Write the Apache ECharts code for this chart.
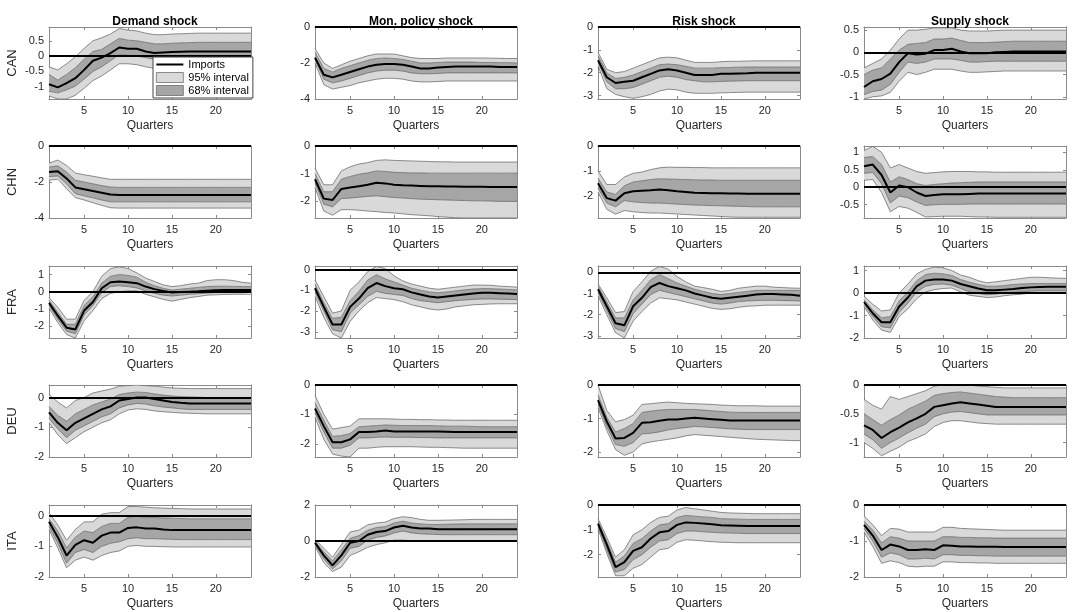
<!DOCTYPE html>
<html><head><meta charset="utf-8">
<script src="https://cdn.jsdelivr.net/npm/echarts@6/dist/echarts.min.js"></script>
<style>html,body{margin:0;padding:0;background:#fff}#c{width:1075px;height:612px}</style>
</head><body><div id="c"></div>
<script>
// ---------- DATA ----------
const quarters = [1,2,3,4,5,6,7,8,9,10,11,12,13,14,15,16,17,18,19,20,21,22,23,24];
const shocks = ['Demand shock', 'Mon. policy shock', 'Risk shock', 'Supply shock'];
const countries = ['CAN', 'CHN', 'FRA', 'DEU', 'ITA'];
const legendNames = ['Imports', '95% interval', '68% interval'];

// Each panel: [lower 95%, lower 68%, median (Imports), upper 68%, upper 95%]
const CAN_Demand = [
 [-1.3,-1.4,-1.4,-1.28,-1.05,-0.8,-0.65,-0.45,-0.25,-0.25,-0.28,-0.35,-0.4,-0.42,-0.43,-0.44,-0.45,-0.45,-0.45,-0.45,-0.45,-0.45,-0.45,-0.45],
 [-1.15,-1.2,-1.1,-0.98,-0.75,-0.5,-0.35,-0.15,0.05,0.02,0.0,-0.05,-0.1,-0.12,-0.12,-0.13,-0.13,-0.14,-0.14,-0.15,-0.15,-0.15,-0.15,-0.15],
 [-0.92,-1.02,-0.88,-0.72,-0.45,-0.15,-0.05,0.1,0.28,0.24,0.24,0.15,0.1,0.12,0.13,0.14,0.15,0.15,0.15,0.15,0.15,0.15,0.15,0.15],
 [-0.6,-0.78,-0.6,-0.38,-0.1,0.15,0.22,0.4,0.58,0.52,0.5,0.45,0.4,0.4,0.42,0.43,0.44,0.45,0.45,0.45,0.45,0.45,0.45,0.45],
 [-0.35,-0.45,-0.25,-0.02,0.25,0.5,0.6,0.72,0.9,0.85,0.82,0.75,0.7,0.7,0.72,0.73,0.74,0.75,0.75,0.75,0.75,0.75,0.75,0.75]];
const CAN_Monetary = [
 [-2.0,-3.2,-3.45,-3.35,-3.25,-3.1,-3.0,-2.9,-2.85,-2.85,-2.9,-3.0,-3.05,-3.05,-3.03,-3.0,-3.0,-3.0,-3.0,-3.0,-3.0,-3.0,-3.0,-3.0],
 [-1.8,-2.9,-3.1,-3.0,-2.85,-2.7,-2.55,-2.45,-2.4,-2.4,-2.45,-2.55,-2.6,-2.6,-2.58,-2.55,-2.55,-2.55,-2.55,-2.55,-2.55,-2.55,-2.55,-2.55],
 [-1.7,-2.65,-2.8,-2.65,-2.5,-2.35,-2.2,-2.1,-2.05,-2.05,-2.1,-2.2,-2.3,-2.3,-2.25,-2.22,-2.2,-2.2,-2.2,-2.2,-2.2,-2.22,-2.22,-2.22],
 [-1.4,-2.3,-2.5,-2.3,-2.15,-2.0,-1.85,-1.75,-1.72,-1.75,-1.8,-1.9,-2.0,-2.0,-1.97,-1.95,-1.95,-1.95,-1.95,-1.97,-1.97,-1.98,-1.98,-2.0],
 [-1.2,-2.0,-2.3,-2.1,-1.9,-1.75,-1.6,-1.5,-1.5,-1.5,-1.6,-1.7,-1.75,-1.75,-1.75,-1.72,-1.72,-1.72,-1.72,-1.72,-1.73,-1.74,-1.75,-1.75]];
const CAN_Risk = [
 [-1.7,-2.7,-2.95,-3.05,-3.12,-3.05,-2.95,-2.8,-2.72,-2.75,-2.85,-2.9,-2.9,-2.9,-2.88,-2.87,-2.86,-2.85,-2.85,-2.85,-2.85,-2.85,-2.85,-2.85],
 [-1.55,-2.4,-2.7,-2.7,-2.65,-2.5,-2.35,-2.2,-2.15,-2.2,-2.3,-2.35,-2.4,-2.4,-2.38,-2.37,-2.36,-2.35,-2.35,-2.35,-2.35,-2.35,-2.35,-2.35],
 [-1.45,-2.2,-2.45,-2.4,-2.35,-2.2,-2.05,-1.9,-1.85,-1.9,-2.0,-2.1,-2.1,-2.1,-2.05,-2.05,-2.03,-2.02,-2.0,-2.0,-2.0,-2.0,-2.0,-2.0],
 [-1.25,-2.0,-2.25,-2.2,-2.1,-1.95,-1.8,-1.65,-1.62,-1.65,-1.72,-1.8,-1.8,-1.8,-1.78,-1.77,-1.76,-1.75,-1.75,-1.75,-1.75,-1.75,-1.75,-1.75],
 [-1.1,-1.85,-2.0,-1.95,-1.8,-1.65,-1.5,-1.35,-1.32,-1.35,-1.45,-1.55,-1.55,-1.55,-1.52,-1.5,-1.5,-1.49,-1.48,-1.48,-1.48,-1.48,-1.48,-1.48]];
const CAN_Supply = [
 [-1.05,-1.0,-0.98,-0.9,-0.65,-0.45,-0.5,-0.45,-0.38,-0.38,-0.38,-0.42,-0.45,-0.45,-0.44,-0.43,-0.42,-0.42,-0.42,-0.42,-0.42,-0.42,-0.42,-0.42],
 [-0.95,-0.88,-0.85,-0.72,-0.45,-0.22,-0.25,-0.22,-0.15,-0.15,-0.15,-0.18,-0.22,-0.22,-0.21,-0.2,-0.2,-0.2,-0.2,-0.2,-0.2,-0.2,-0.2,-0.2],
 [-0.78,-0.65,-0.6,-0.48,-0.22,-0.02,-0.05,-0.03,0.05,0.05,0.08,0.02,-0.02,-0.02,-0.02,0.0,0.01,0.02,0.02,0.02,0.02,0.02,0.02,0.02],
 [-0.5,-0.4,-0.35,-0.15,0.05,0.18,0.2,0.22,0.3,0.3,0.32,0.27,0.22,0.22,0.22,0.23,0.24,0.25,0.25,0.25,0.25,0.25,0.25,0.25],
 [-0.35,-0.25,-0.15,0.05,0.3,0.5,0.5,0.52,0.55,0.55,0.55,0.5,0.48,0.48,0.48,0.49,0.5,0.5,0.5,0.5,0.5,0.5,0.5,0.5]];

const CHN_Demand = [
 [-1.9,-1.84,-2.37,-2.87,-3.0,-3.15,-3.3,-3.43,-3.45,-3.45,-3.45,-3.45,-3.45,-3.45,-3.45,-3.45,-3.45,-3.45,-3.45,-3.45,-3.45,-3.45,-3.45,-3.45],
 [-1.7,-1.67,-2.1,-2.65,-2.77,-2.88,-3.0,-3.1,-3.1,-3.1,-3.1,-3.1,-3.1,-3.1,-3.1,-3.1,-3.1,-3.1,-3.1,-3.1,-3.1,-3.1,-3.1,-3.1],
 [-1.45,-1.4,-1.8,-2.3,-2.4,-2.5,-2.6,-2.7,-2.72,-2.72,-2.72,-2.72,-2.72,-2.72,-2.72,-2.72,-2.72,-2.72,-2.72,-2.72,-2.72,-2.72,-2.72,-2.72],
 [-1.17,-1.1,-1.45,-1.9,-2.0,-2.1,-2.2,-2.28,-2.3,-2.3,-2.3,-2.3,-2.3,-2.3,-2.3,-2.3,-2.3,-2.3,-2.3,-2.3,-2.3,-2.3,-2.3,-2.3],
 [-0.95,-0.78,-1.08,-1.5,-1.6,-1.68,-1.77,-1.85,-1.85,-1.85,-1.85,-1.85,-1.85,-1.85,-1.85,-1.85,-1.85,-1.85,-1.85,-1.85,-1.85,-1.85,-1.85,-1.85]];
const CHN_Monetary = [
 [-1.5,-2.35,-2.5,-2.3,-2.3,-2.32,-2.35,-2.37,-2.4,-2.42,-2.45,-2.48,-2.5,-2.52,-2.55,-2.57,-2.59,-2.6,-2.6,-2.6,-2.6,-2.6,-2.6,-2.6],
 [-1.35,-2.1,-2.2,-1.9,-1.88,-1.85,-1.82,-1.8,-1.83,-1.86,-1.88,-1.9,-1.92,-1.93,-1.94,-1.95,-1.96,-1.97,-1.98,-1.98,-1.99,-2.0,-2.0,-2.0],
 [-1.2,-1.9,-1.95,-1.55,-1.5,-1.45,-1.4,-1.33,-1.35,-1.4,-1.42,-1.43,-1.44,-1.45,-1.45,-1.46,-1.46,-1.47,-1.47,-1.47,-1.48,-1.48,-1.48,-1.48],
 [-1.0,-1.65,-1.65,-1.2,-1.1,-1.02,-0.97,-0.9,-0.92,-0.95,-0.96,-0.97,-0.97,-0.98,-0.98,-0.98,-0.98,-0.98,-0.98,-0.98,-0.98,-0.98,-0.98,-0.98],
 [-0.8,-1.4,-1.4,-0.9,-0.75,-0.65,-0.6,-0.52,-0.5,-0.52,-0.53,-0.54,-0.55,-0.56,-0.57,-0.57,-0.58,-0.58,-0.58,-0.58,-0.58,-0.58,-0.58,-0.58]];
const CHN_Risk = [
 [-1.85,-2.55,-2.75,-2.6,-2.65,-2.68,-2.7,-2.7,-2.72,-2.74,-2.76,-2.78,-2.8,-2.82,-2.84,-2.86,-2.87,-2.87,-2.87,-2.87,-2.87,-2.87,-2.87,-2.87],
 [-1.7,-2.3,-2.45,-2.2,-2.25,-2.28,-2.3,-2.3,-2.32,-2.34,-2.36,-2.38,-2.39,-2.4,-2.41,-2.42,-2.43,-2.44,-2.45,-2.45,-2.45,-2.45,-2.45,-2.45],
 [-1.5,-2.1,-2.2,-1.9,-1.82,-1.8,-1.78,-1.75,-1.78,-1.82,-1.85,-1.88,-1.89,-1.9,-1.9,-1.91,-1.91,-1.92,-1.92,-1.92,-1.92,-1.92,-1.92,-1.92],
 [-1.3,-1.85,-1.95,-1.6,-1.45,-1.4,-1.35,-1.32,-1.33,-1.34,-1.35,-1.36,-1.37,-1.37,-1.38,-1.38,-1.38,-1.38,-1.38,-1.38,-1.38,-1.38,-1.38,-1.38],
 [-1.0,-1.55,-1.55,-1.25,-1.1,-1.05,-0.95,-0.88,-0.85,-0.86,-0.86,-0.87,-0.87,-0.88,-0.88,-0.88,-0.88,-0.88,-0.88,-0.88,-0.88,-0.88,-0.88,-0.88]];
const CHN_Supply = [
 [0.2,0.22,-0.15,-0.7,-0.55,-0.6,-0.72,-0.85,-0.84,-0.83,-0.83,-0.83,-0.84,-0.85,-0.85,-0.86,-0.86,-0.86,-0.86,-0.86,-0.86,-0.86,-0.86,-0.86],
 [0.4,0.42,0.1,-0.45,-0.25,-0.3,-0.42,-0.52,-0.5,-0.49,-0.49,-0.49,-0.48,-0.48,-0.48,-0.48,-0.48,-0.48,-0.48,-0.48,-0.48,-0.48,-0.48,-0.48],
 [0.6,0.65,0.35,-0.15,0.05,0.0,-0.15,-0.25,-0.22,-0.2,-0.2,-0.2,-0.19,-0.18,-0.18,-0.18,-0.18,-0.18,-0.18,-0.18,-0.18,-0.18,-0.18,-0.18],
 [0.85,0.88,0.65,0.15,0.3,0.22,0.1,0.05,0.08,0.1,0.12,0.13,0.14,0.15,0.15,0.15,0.15,0.15,0.15,0.15,0.15,0.15,0.15,0.15],
 [1.05,1.17,1.0,0.55,0.65,0.55,0.45,0.4,0.42,0.44,0.45,0.45,0.45,0.44,0.44,0.43,0.43,0.43,0.43,0.43,0.43,0.43,0.43,0.43]];

const FRA_Demand = [
 [-0.95,-1.8,-2.5,-2.7,-1.7,-1.1,-0.4,-0.1,0.0,0.05,0.05,-0.15,-0.3,-0.45,-0.55,-0.45,-0.35,-0.28,-0.2,-0.18,-0.16,-0.15,-0.15,-0.15],
 [-0.8,-1.6,-2.3,-2.45,-1.35,-0.8,-0.05,0.3,0.35,0.3,0.22,0.05,-0.1,-0.2,-0.25,-0.2,-0.15,-0.12,-0.08,-0.05,-0.05,-0.05,-0.05,-0.05],
 [-0.65,-1.4,-2.1,-2.2,-1.1,-0.6,0.2,0.55,0.6,0.55,0.5,0.3,0.15,0.05,-0.05,-0.02,0.0,0.02,0.05,0.08,0.1,0.1,0.1,0.1],
 [-0.5,-1.2,-1.9,-1.9,-0.8,-0.3,0.5,0.9,1.0,0.95,0.85,0.55,0.35,0.2,0.1,0.15,0.2,0.25,0.3,0.32,0.32,0.31,0.3,0.3],
 [-0.35,-0.9,-1.6,-1.6,-0.5,0.0,0.9,1.35,1.45,1.35,1.1,0.8,0.6,0.4,0.3,0.35,0.45,0.5,0.65,0.7,0.7,0.65,0.55,0.5]];
const FRA_Monetary = [
 [-1.3,-2.3,-3.1,-3.3,-2.5,-2.0,-1.6,-1.35,-1.4,-1.45,-1.55,-1.7,-1.8,-1.9,-1.95,-1.9,-1.8,-1.75,-1.7,-1.68,-1.66,-1.65,-1.65,-1.65],
 [-1.1,-2.0,-2.9,-3.0,-2.1,-1.7,-1.3,-1.05,-1.15,-1.2,-1.25,-1.4,-1.5,-1.55,-1.6,-1.55,-1.5,-1.47,-1.44,-1.42,-1.42,-1.43,-1.44,-1.45],
 [-0.9,-1.8,-2.65,-2.65,-1.8,-1.4,-0.9,-0.65,-0.8,-0.9,-0.95,-1.1,-1.2,-1.3,-1.35,-1.3,-1.25,-1.2,-1.15,-1.12,-1.12,-1.14,-1.16,-1.18],
 [-0.7,-1.6,-2.35,-2.3,-1.5,-1.05,-0.5,-0.25,-0.45,-0.6,-0.75,-0.9,-1.0,-1.08,-1.12,-1.08,-1.03,-0.98,-0.94,-0.92,-0.92,-0.94,-0.96,-0.98],
 [-0.5,-1.3,-2.1,-2.0,-1.0,-0.6,-0.1,0.15,0.05,-0.3,-0.55,-0.7,-0.8,-0.9,-0.95,-0.9,-0.85,-0.8,-0.75,-0.75,-0.76,-0.8,-0.82,-0.85]];
const FRA_Risk = [
 [-1.1,-2.0,-2.85,-3.1,-2.3,-1.85,-1.45,-1.2,-1.25,-1.3,-1.4,-1.5,-1.6,-1.7,-1.75,-1.72,-1.65,-1.6,-1.58,-1.55,-1.55,-1.55,-1.55,-1.55],
 [-0.95,-1.8,-2.65,-2.8,-1.95,-1.5,-1.05,-0.85,-0.95,-1.05,-1.15,-1.25,-1.35,-1.45,-1.5,-1.45,-1.38,-1.35,-1.33,-1.32,-1.32,-1.33,-1.34,-1.35],
 [-0.8,-1.6,-2.4,-2.5,-1.6,-1.2,-0.7,-0.5,-0.65,-0.75,-0.85,-1.0,-1.1,-1.2,-1.25,-1.2,-1.15,-1.1,-1.05,-1.02,-1.02,-1.04,-1.06,-1.1],
 [-0.65,-1.4,-2.15,-2.15,-1.3,-0.85,-0.35,-0.1,-0.3,-0.5,-0.65,-0.8,-0.9,-1.0,-1.05,-1.0,-0.95,-0.9,-0.85,-0.85,-0.85,-0.85,-0.85,-0.85],
 [-0.55,-1.2,-1.9,-1.85,-0.9,-0.45,0.05,0.28,0.15,-0.2,-0.45,-0.65,-0.72,-0.8,-0.9,-0.85,-0.75,-0.7,-0.65,-0.65,-0.7,-0.72,-0.74,-0.75]];
const FRA_Supply = [
 [-0.6,-1.2,-1.65,-1.75,-1.05,-0.7,-0.25,0.05,0.15,0.2,0.22,0.05,-0.1,-0.15,-0.2,-0.18,-0.12,-0.08,-0.05,0.0,0.0,0.0,0.0,0.0],
 [-0.5,-1.05,-1.5,-1.55,-0.85,-0.45,0.05,0.3,0.38,0.4,0.35,0.2,0.05,-0.02,-0.08,-0.05,0.0,0.02,0.05,0.08,0.1,0.1,0.1,0.1],
 [-0.4,-0.9,-1.3,-1.3,-0.6,-0.2,0.3,0.55,0.6,0.6,0.55,0.4,0.3,0.2,0.12,0.12,0.15,0.18,0.22,0.25,0.27,0.28,0.28,0.28],
 [-0.3,-0.75,-1.1,-1.05,-0.35,0.05,0.55,0.82,0.88,0.85,0.78,0.6,0.48,0.38,0.3,0.3,0.33,0.38,0.4,0.42,0.42,0.42,0.42,0.42],
 [-0.15,-0.5,-0.8,-0.75,0.0,0.4,0.85,1.05,1.15,1.12,1.0,0.8,0.7,0.55,0.45,0.5,0.55,0.6,0.65,0.7,0.7,0.68,0.66,0.65]];

const DEU_Demand = [
 [-0.85,-1.25,-1.55,-1.35,-1.15,-1.0,-0.85,-0.75,-0.55,-0.42,-0.38,-0.4,-0.45,-0.48,-0.5,-0.52,-0.53,-0.54,-0.55,-0.55,-0.55,-0.55,-0.55,-0.55],
 [-0.7,-1.05,-1.35,-1.1,-0.95,-0.8,-0.65,-0.55,-0.35,-0.25,-0.2,-0.22,-0.28,-0.32,-0.35,-0.38,-0.4,-0.4,-0.4,-0.4,-0.4,-0.4,-0.4,-0.4],
 [-0.5,-0.85,-1.1,-0.85,-0.7,-0.55,-0.4,-0.3,-0.1,-0.05,0.0,0.0,-0.05,-0.1,-0.15,-0.18,-0.2,-0.2,-0.2,-0.2,-0.2,-0.2,-0.2,-0.2],
 [-0.3,-0.6,-0.8,-0.55,-0.4,-0.25,-0.15,-0.05,0.1,0.15,0.18,0.17,0.12,0.08,0.05,0.03,0.02,0.01,0.0,0.0,0.0,0.0,0.0,0.0],
 [0.1,-0.15,-0.35,-0.1,0.0,0.15,0.22,0.28,0.38,0.4,0.42,0.4,0.38,0.35,0.32,0.31,0.3,0.3,0.3,0.3,0.3,0.3,0.3,0.3]];
const DEU_Monetary = [
 [-1.1,-1.85,-2.35,-2.42,-2.45,-2.15,-2.15,-2.12,-2.1,-2.1,-2.1,-2.1,-2.11,-2.12,-2.12,-2.13,-2.14,-2.15,-2.15,-2.15,-2.15,-2.15,-2.15,-2.15],
 [-0.95,-1.6,-2.15,-2.15,-2.05,-1.8,-1.8,-1.78,-1.77,-1.78,-1.78,-1.78,-1.79,-1.79,-1.8,-1.8,-1.8,-1.8,-1.8,-1.8,-1.8,-1.8,-1.8,-1.8],
 [-0.8,-1.4,-1.95,-1.95,-1.85,-1.6,-1.6,-1.58,-1.55,-1.58,-1.58,-1.58,-1.58,-1.58,-1.58,-1.59,-1.6,-1.6,-1.6,-1.6,-1.6,-1.6,-1.6,-1.6],
 [-0.6,-1.2,-1.75,-1.72,-1.65,-1.42,-1.4,-1.38,-1.36,-1.37,-1.38,-1.38,-1.38,-1.38,-1.39,-1.4,-1.4,-1.4,-1.41,-1.42,-1.42,-1.42,-1.42,-1.42],
 [-0.35,-1.0,-1.5,-1.45,-1.4,-1.15,-1.15,-1.15,-1.15,-1.16,-1.17,-1.17,-1.18,-1.18,-1.19,-1.19,-1.2,-1.2,-1.2,-1.2,-1.2,-1.2,-1.2,-1.2]];
const DEU_Risk = [
 [-0.67,-1.36,-1.93,-2.1,-2.0,-1.76,-1.7,-1.66,-1.62,-1.58,-1.52,-1.48,-1.5,-1.52,-1.54,-1.56,-1.58,-1.6,-1.62,-1.63,-1.64,-1.65,-1.66,-1.66],
 [-0.57,-1.24,-1.78,-1.83,-1.72,-1.46,-1.44,-1.4,-1.34,-1.3,-1.27,-1.24,-1.25,-1.27,-1.29,-1.31,-1.32,-1.33,-1.33,-1.33,-1.33,-1.33,-1.33,-1.33],
 [-0.45,-1.09,-1.6,-1.58,-1.43,-1.13,-1.11,-1.07,-1.03,-1.03,-1.0,-0.98,-1.0,-1.02,-1.04,-1.06,-1.06,-1.06,-1.06,-1.06,-1.06,-1.06,-1.06,-1.06],
 [-0.29,-0.96,-1.4,-1.3,-1.15,-0.82,-0.78,-0.75,-0.73,-0.73,-0.73,-0.73,-0.75,-0.77,-0.79,-0.81,-0.82,-0.82,-0.82,-0.82,-0.82,-0.82,-0.82,-0.82],
 [0.0,-0.76,-1.1,-1.03,-0.9,-0.58,-0.56,-0.53,-0.51,-0.53,-0.55,-0.56,-0.57,-0.58,-0.6,-0.61,-0.62,-0.62,-0.62,-0.63,-0.63,-0.63,-0.63,-0.63]];
const DEU_Supply = [
 [-1.0,-1.1,-1.23,-1.15,-1.08,-0.98,-0.92,-0.85,-0.72,-0.65,-0.62,-0.62,-0.64,-0.66,-0.67,-0.68,-0.68,-0.68,-0.68,-0.68,-0.68,-0.68,-0.68,-0.68],
 [-0.85,-0.95,-1.1,-1.0,-0.92,-0.83,-0.75,-0.68,-0.55,-0.5,-0.47,-0.46,-0.48,-0.5,-0.52,-0.52,-0.52,-0.52,-0.52,-0.52,-0.52,-0.52,-0.52,-0.52],
 [-0.7,-0.78,-0.92,-0.82,-0.74,-0.65,-0.58,-0.5,-0.38,-0.35,-0.32,-0.3,-0.32,-0.34,-0.36,-0.38,-0.38,-0.38,-0.38,-0.38,-0.38,-0.38,-0.38,-0.38],
 [-0.5,-0.6,-0.7,-0.6,-0.52,-0.42,-0.35,-0.28,-0.18,-0.15,-0.13,-0.12,-0.14,-0.16,-0.18,-0.2,-0.21,-0.22,-0.22,-0.22,-0.22,-0.22,-0.22,-0.22],
 [-0.25,-0.35,-0.42,-0.2,-0.25,-0.2,-0.15,-0.1,-0.02,0.0,0.0,0.0,0.0,-0.02,-0.03,-0.04,-0.05,-0.05,-0.05,-0.05,-0.05,-0.05,-0.05,-0.05]];

const ITA_Demand = [
 [-0.45,-1.05,-1.7,-1.45,-1.35,-1.45,-1.3,-1.2,-1.15,-1.0,-0.97,-1.0,-1.0,-1.01,-1.02,-1.02,-1.02,-1.02,-1.02,-1.02,-1.02,-1.02,-1.02,-1.02],
 [-0.35,-0.9,-1.55,-1.2,-1.1,-1.2,-1.0,-0.9,-0.85,-0.75,-0.72,-0.75,-0.75,-0.76,-0.77,-0.78,-0.78,-0.78,-0.78,-0.78,-0.78,-0.78,-0.78,-0.78],
 [-0.2,-0.7,-1.3,-0.95,-0.8,-0.88,-0.65,-0.55,-0.55,-0.4,-0.38,-0.42,-0.42,-0.45,-0.47,-0.47,-0.47,-0.47,-0.47,-0.47,-0.47,-0.47,-0.47,-0.47],
 [-0.1,-0.5,-1.05,-0.7,-0.5,-0.55,-0.35,-0.25,-0.25,-0.05,-0.02,-0.05,-0.06,-0.07,-0.08,-0.09,-0.1,-0.1,-0.1,-0.1,-0.1,-0.1,-0.1,-0.1],
 [0.1,-0.3,-0.8,-0.45,-0.2,-0.2,0.05,0.1,0.1,0.3,0.3,0.28,0.26,0.25,0.24,0.23,0.22,0.22,0.22,0.22,0.22,0.22,0.22,0.22]];
const ITA_Monetary = [
 [-0.3,-1.2,-1.7,-1.45,-0.8,-0.6,-0.35,-0.2,-0.1,0.05,0.05,0.02,0.0,0.0,0.0,0.0,0.0,0.0,0.0,0.0,0.0,0.0,0.0,0.0],
 [-0.2,-1.0,-1.55,-1.1,-0.4,-0.3,0.05,0.2,0.28,0.45,0.55,0.45,0.4,0.38,0.36,0.35,0.35,0.35,0.35,0.35,0.35,0.35,0.35,0.35],
 [-0.1,-0.8,-1.35,-0.8,-0.1,0.0,0.35,0.5,0.55,0.75,0.85,0.75,0.7,0.7,0.65,0.65,0.65,0.65,0.65,0.65,0.65,0.65,0.65,0.65],
 [0.0,-0.6,-1.1,-0.5,0.15,0.3,0.6,0.75,0.8,1.0,1.1,1.0,0.95,0.92,0.92,0.93,0.94,0.95,0.95,0.95,0.95,0.95,0.95,0.95],
 [0.1,-0.4,-0.9,-0.2,0.5,0.6,0.9,1.0,1.05,1.25,1.35,1.3,1.2,1.15,1.15,1.16,1.17,1.18,1.2,1.2,1.2,1.2,1.2,1.2]];
const ITA_Risk = [
 [-0.95,-1.95,-2.85,-2.85,-2.55,-2.4,-2.1,-1.8,-1.75,-1.5,-1.4,-1.42,-1.45,-1.48,-1.5,-1.51,-1.52,-1.52,-1.52,-1.52,-1.52,-1.52,-1.52,-1.52],
 [-0.85,-1.8,-2.7,-2.6,-2.2,-2.0,-1.7,-1.45,-1.4,-1.15,-1.05,-1.05,-1.08,-1.1,-1.12,-1.13,-1.14,-1.15,-1.15,-1.15,-1.15,-1.15,-1.15,-1.15],
 [-0.75,-1.6,-2.5,-2.3,-1.85,-1.7,-1.35,-1.1,-1.05,-0.8,-0.7,-0.72,-0.75,-0.78,-0.82,-0.83,-0.84,-0.85,-0.85,-0.85,-0.85,-0.85,-0.85,-0.85],
 [-0.65,-1.45,-2.3,-2.05,-1.55,-1.35,-1.05,-0.8,-0.75,-0.5,-0.42,-0.45,-0.48,-0.5,-0.55,-0.56,-0.57,-0.58,-0.58,-0.58,-0.58,-0.58,-0.58,-0.58],
 [-0.55,-1.3,-2.1,-1.8,-1.2,-1.0,-0.7,-0.5,-0.45,-0.2,-0.1,-0.15,-0.2,-0.25,-0.3,-0.32,-0.33,-0.34,-0.35,-0.35,-0.35,-0.35,-0.35,-0.35]];
const ITA_Supply = [
 [-0.75,-1.15,-1.62,-1.55,-1.6,-1.7,-1.72,-1.7,-1.7,-1.58,-1.58,-1.6,-1.6,-1.61,-1.61,-1.62,-1.62,-1.62,-1.62,-1.62,-1.62,-1.62,-1.62,-1.62],
 [-0.65,-1.0,-1.45,-1.33,-1.38,-1.5,-1.5,-1.48,-1.5,-1.38,-1.38,-1.4,-1.4,-1.41,-1.41,-1.42,-1.42,-1.42,-1.42,-1.42,-1.42,-1.42,-1.42,-1.42],
 [-0.55,-0.85,-1.25,-1.1,-1.15,-1.25,-1.25,-1.23,-1.25,-1.12,-1.13,-1.15,-1.15,-1.16,-1.16,-1.16,-1.17,-1.17,-1.17,-1.17,-1.17,-1.17,-1.17,-1.17],
 [-0.45,-0.7,-1.05,-0.88,-0.92,-1.0,-1.0,-1.0,-1.0,-0.88,-0.88,-0.9,-0.9,-0.91,-0.91,-0.92,-0.92,-0.92,-0.92,-0.92,-0.92,-0.92,-0.92,-0.92],
 [-0.3,-0.55,-0.85,-0.65,-0.67,-0.75,-0.75,-0.75,-0.75,-0.62,-0.62,-0.65,-0.66,-0.67,-0.68,-0.69,-0.7,-0.7,-0.7,-0.7,-0.7,-0.7,-0.7,-0.7]];

// y-axis limits and tick labels, row by row (CAN, CHN, FRA, DEU, ITA), columns = shocks
const yMin = [-1.4,-4,-3.15,-1.05,  -4,-2.6,-2.9,-0.88,  -2.7,-3.3,-3.1,-2,  -2,-2.45,-2.15,-1.25,  -2,-2,-2.9,-2];
const yMax = [0.95,0,0,0.57,  0,0,0,1.18,  1.5,0.17,0.3,1.2,  0.42,0,0,0,  0.35,2,0,0];
const yTicks = [
 [-1,-0.5,0,0.5],[-4,-2,0],[-3,-2,-1,0],[-1,-0.5,0,0.5],
 [-4,-2,0],[-2,-1,0],[-2,-1,0],[-0.5,0,0.5,1],
 [-2,-1,0,1],[-3,-2,-1,0],[-3,-2,-1,0],[-2,-1,0,1],
 [-2,-1,0],[-2,-1,0],[-2,-1,0],[-1,-0.5,0],
 [-2,-1,0],[-2,0,2],[-2,-1,0],[-2,-1,0]];
const xTicks = [5,10,15,20];

const panelGrid = [
 [CAN_Demand, CAN_Monetary, CAN_Risk, CAN_Supply],
 [CHN_Demand, CHN_Monetary, CHN_Risk, CHN_Supply],
 [FRA_Demand, FRA_Monetary, FRA_Risk, FRA_Supply],
 [DEU_Demand, DEU_Monetary, DEU_Risk, DEU_Supply],
 [ITA_Demand, ITA_Monetary, ITA_Risk, ITA_Supply]];

// ---------- LAYOUT / STYLE ----------
const FONT = 'Liberation Sans, Arial, Helvetica, sans-serif';
const colLeft = [49, 315, 598, 864];
const rowTop = [27, 146, 266, 385, 505];
const PW = 202, PH = 72;
const LIGHT = '#d9d9d9', DARK = '#a6a6a6', EDGE = '#5f5f5f', BOX = '#8a8a8a', TXT = '#262626';

const xCats = quarters.map(String);
const showTick = (i, v) => xTicks.indexOf(Number(v)) >= 0;

const grids = [], xAxes = [], yAxes = [], series = [], titles = [];

shocks.forEach((s, c) => {
  titles.push({text: s, left: colLeft[c] + PW / 2, top: 11, textAlign: 'center',
    textStyle: {fontFamily: FONT, fontSize: 12, fontWeight: 'bold', color: '#000'}});
});

countries.forEach((country, r) => {
  shocks.forEach((s, c) => {
    const g = r * 4 + c;
    const [lo95, lo68, med, hi68, hi95] = panelGrid[r][c];
    grids.push({left: colLeft[c], top: rowTop[r], width: PW, height: PH, containLabel: false});
    const axLine = {show: true, onZero: false, lineStyle: {color: BOX, width: 1}};
    const xTick = {show: true, inside: true, length: 3, interval: showTick, lineStyle: {color: BOX}};
    xAxes.push({type: 'category', data: xCats, boundaryGap: false, gridIndex: g, position: 'bottom',
      axisLine: axLine, splitLine: {show: false}, axisTick: xTick,
      axisLabel: {interval: showTick, margin: 6, fontFamily: FONT, fontSize: 11, color: TXT},
      name: 'Quarters', nameLocation: 'middle', nameGap: 21,
      nameTextStyle: {fontFamily: FONT, fontSize: 12, color: TXT}});
    xAxes.push({type: 'category', data: xCats, boundaryGap: false, gridIndex: g, position: 'top',
      axisLine: axLine, splitLine: {show: false}, axisTick: xTick, axisLabel: {show: false}});
    const yt = yTicks[g];
    const yl = {type: 'value', gridIndex: g, position: 'left', min: yMin[g], max: yMax[g],
      axisLine: axLine, splitLine: {show: false},
      axisTick: {show: true, inside: true, length: 3, customValues: yt, lineStyle: {color: BOX}},
      axisLabel: {customValues: yt, margin: 5, fontFamily: FONT, fontSize: 11, color: TXT}};
    if (c === 0) {
      yl.name = country; yl.nameLocation = 'middle'; yl.nameGap = 30;
      yl.nameTextStyle = {fontFamily: FONT, fontSize: 13, color: TXT};
    }
    yAxes.push(yl);
    yAxes.push({type: 'value', gridIndex: g, position: 'right', min: yMin[g], max: yMax[g],
      axisLine: axLine, splitLine: {show: false},
      axisTick: {show: true, inside: true, length: 3, customValues: yt, lineStyle: {color: BOX}},
      axisLabel: {show: false}});

    const base = {type: 'line', xAxisIndex: 2 * g, yAxisIndex: 2 * g, symbol: 'none',
      stack: 'band' + g, stackStrategy: 'all', silent: true, animation: false,
      lineStyle: {width: 0.7, color: EDGE}};
    const diff = (a, b) => a.map((v, i) => +(v - b[i]).toFixed(4));
    series.push(Object.assign({}, base, {name: 'lower', data: lo95.slice()}));
    series.push(Object.assign({}, base, {name: '95% interval', color: LIGHT, data: diff(lo68, lo95),
      areaStyle: {color: LIGHT, opacity: 1}}));
    series.push(Object.assign({}, base, {name: '68% interval', color: DARK, data: diff(hi68, lo68),
      areaStyle: {color: DARK, opacity: 1}}));
    series.push(Object.assign({}, base, {name: '95% interval', color: LIGHT, data: diff(hi95, hi68),
      areaStyle: {color: LIGHT, opacity: 1}}));
    series.push({type: 'line', name: 'Imports', xAxisIndex: 2 * g, yAxisIndex: 2 * g, symbol: 'none',
      silent: true, animation: false, color: '#000', data: med.slice(),
      lineStyle: {width: 2, color: '#000'}, z: 5,
      markLine: {silent: true, symbol: 'none', animation: false, label: {show: false},
        lineStyle: {color: '#000', width: 2, type: 'solid'}, data: [{yAxis: 0}]}});
  });
});

const chart = echarts.init(document.getElementById('c'), null, {renderer: 'canvas'});
chart.setOption({
  animation: false,
  backgroundColor: '#fff',
  textStyle: {fontFamily: FONT},
  title: titles,
  grid: grids,
  xAxis: xAxes,
  yAxis: yAxes,
  legend: {
    show: true, orient: 'vertical', left: 153, top: 57, z: 20,
    backgroundColor: '#fff', borderColor: '#444', borderWidth: 1,
    padding: [2, 4, 2, 3], itemGap: 2, itemWidth: 27, itemHeight: 10,
    textStyle: {fontFamily: FONT, fontSize: 11, color: '#000'},
    data: [
      {name: legendNames[0], icon: 'path://M0,0H40V3H0Z', itemStyle: {color: '#000', borderWidth: 0}},
      {name: legendNames[1], icon: 'rect', itemStyle: {color: LIGHT, borderColor: EDGE, borderWidth: 0.7}},
      {name: legendNames[2], icon: 'rect', itemStyle: {color: DARK, borderColor: EDGE, borderWidth: 0.7}}
    ],
    selectedMode: false
  },
  series: series
});
</script>
</body></html>
